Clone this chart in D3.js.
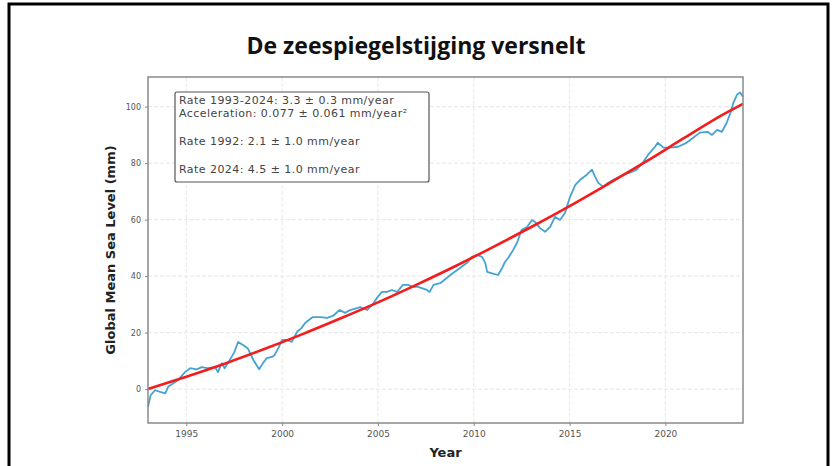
<!DOCTYPE html>
<html>
<head>
<meta charset="utf-8">
<script src="https://cdn.jsdelivr.net/npm/d3@7"></script>
<style>
  body { margin: 0; background: #fff; }
  svg { display: block; }
</style>
</head>
<body>
<div id="page-container"></div>
<script>
  var years = [1993.0, 1993.14, 1993.37, 1993.63, 1993.9, 1994.05, 1994.3, 1994.57, 1994.93, 1995.2,
               1995.55, 1995.8, 1996.1, 1996.5, 1996.65, 1996.85, 1997.0, 1997.17, 1997.5, 1997.7,
               1997.96, 1998.2, 1998.5, 1998.8, 1999.0, 1999.2, 1999.47, 1999.6, 1999.8, 2000.0,
               2000.25, 2000.5, 2000.8, 2001.0, 2001.2, 2001.6, 2001.98, 2002.35, 2002.65, 2003.0,
               2003.28, 2003.55, 2003.9, 2004.07, 2004.43, 2004.7, 2004.95, 2005.2, 2005.47, 2005.73,
               2006.0, 2006.3, 2006.57, 2006.83, 2007.1, 2007.55, 2007.7, 2007.9, 2008.25, 2008.6,
               2008.9, 2009.28, 2009.65, 2009.9, 2010.17, 2010.43, 2010.6, 2010.7, 2010.95, 2011.27,
               2011.48, 2011.63, 2011.8, 2012.0, 2012.26, 2012.5, 2012.78, 2013.04, 2013.2, 2013.46,
               2013.72, 2013.98, 2014.24, 2014.5, 2014.76, 2015.02, 2015.3, 2015.55, 2015.9, 2016.17,
               2016.33, 2016.5, 2016.75, 2017.0, 2017.27, 2017.8, 2018.15, 2018.5, 2018.8, 2019.1,
               2019.46, 2019.6, 2019.9, 2020.25, 2020.66, 2021.1, 2021.45, 2021.8, 2022.2, 2022.43,
               2022.7, 2022.95, 2023.2, 2023.4, 2023.55, 2023.74, 2023.9, 2024.05];
  var gmsl = [-6.3, -2.1, -0.4, -1.0, -1.5, 0.8, 2.0, 3.2, 6.0, 7.4,
              7.0, 7.8, 7.4, 7.8, 6.0, 9.2, 7.4, 9.2, 13.0, 16.7,
              15.6, 14.5, 10.3, 7.0, 9.2, 11.0, 11.4, 12.0, 14.5, 17.4,
              17.4, 16.7, 20.5, 21.5, 23.4, 25.5, 25.5, 25.2, 25.9, 28.0,
              27.0, 28.0, 28.7, 29.0, 28.0, 29.8, 32.3, 34.4, 34.4, 35.1,
              34.4, 36.9, 36.9, 36.2, 36.2, 35.1, 34.4, 36.9, 37.5, 39.4,
              41.0, 42.9, 44.7, 46.8, 47.5, 46.8, 44.7, 41.5, 41.0, 40.4,
              42.9, 45.0, 46.5, 48.6, 51.8, 56.4, 57.4, 59.9, 59.2, 57.0,
              55.7, 57.4, 61.0, 59.9, 62.4, 68.0, 72.3, 74.1, 75.9, 77.7,
              75.2, 73.0, 71.6, 73.0, 74.0, 75.9, 76.6, 77.7, 80.0, 83.0,
              85.8, 87.2, 85.5, 85.5, 85.8, 87.2, 89.0, 90.8, 91.1, 90.0,
              91.8, 91.1, 94.3, 97.9, 101.4, 104.3, 105.0, 103.5];

  // quadratic fit (red)
  var fitYears = [1993, 1995, 1997, 1999, 2001, 2003, 2005, 2007, 2009, 2011, 2013, 2015, 2017, 2019, 2021, 2023, 2024.05];
  var fitValues = [0.0, 4.4, 9.0, 14.0, 19.3, 24.9, 30.7, 36.9, 43.4, 50.3, 57.4, 64.8, 72.6, 80.6, 89.0, 97.2, 101.0];

  var xTicks = [1995, 2000, 2005, 2010, 2015, 2020];
  var yTicks = [0, 20, 40, 60, 80, 100];

  var title = "De zeespiegelstijging versnelt";
  var infoLines = ["Rate 1993-2024: 3.3 ± 0.3 mm/year",
                   "Acceleration: 0.077 ± 0.061 mm/year²",
                   "Rate 1992: 2.1 ± 1.0 mm/year",
                   "Rate 2024: 4.5 ± 1.0 mm/year"];

  var W = 832, H = 466;
  var plot = {left: 148, right: 743, top: 77, bottom: 423};

  var svg = d3.select("#page-container").append("svg")
              .attr("width", W)
              .attr("height", H);

  // black frame around the card
  svg.append("rect")
     .attr("x", 9).attr("y", 4)
     .attr("width", 819).attr("height", H + 20)
     .attr("fill", "#fff")
     .attr("stroke", "#000")
     .attr("stroke-width", 3);

  svg.append("text")
     .attr("x", 416).attr("y", 54)
     .attr("text-anchor", "middle")
     .style("font-family", "'Open Sans', sans-serif")
     .style("font-weight", 700)
     .style("font-size", "23px")
     .attr("fill", "#111")
     .text(title);

  var x = d3.scaleLinear().domain([1993, 2024.05]).range([plot.left, plot.right]);
  var y = d3.scaleLinear().domain([-12, 110.5]).range([plot.bottom, plot.top]);

  // grid
  var grid = svg.append("g").attr("stroke", "#ebebeb").attr("stroke-width", 1.2).attr("stroke-dasharray", "4,2");
  grid.selectAll(".gx").data(xTicks).enter().append("line")
      .attr("x1", d => x(d)).attr("x2", d => x(d))
      .attr("y1", plot.top).attr("y2", plot.bottom);
  grid.selectAll(".gy").data(yTicks).enter().append("line")
      .attr("x1", plot.left).attr("x2", plot.right)
      .attr("y1", d => y(d)).attr("y2", d => y(d));

  var xAxis = svg.append("g")
      .attr("transform", "translate(0," + plot.bottom + ")")
      .call(d3.axisBottom(x).tickValues(xTicks).tickFormat(d3.format("d")).tickSize(3).tickPadding(5));
  var yAxis = svg.append("g")
      .attr("transform", "translate(" + plot.left + ",0)")
      .call(d3.axisLeft(y).tickValues(yTicks).tickFormat(d3.format("d")).tickSize(3).tickPadding(4));
  [xAxis, yAxis].forEach(a => {
    a.select(".domain").remove();
    a.selectAll(".tick line").attr("stroke", "#888");
    a.selectAll(".tick text")
     .attr("fill", "#555")
     .style("font-family", "'DejaVu Sans', sans-serif");
  });
  xAxis.selectAll(".tick text").style("font-size", "9px");
  yAxis.selectAll(".tick text").style("font-size", "8px");

  var line = d3.line().x(d => x(d[0])).y(d => y(d[1]));

  svg.append("path")
     .datum(d3.zip(years, gmsl))
     .attr("fill", "none")
     .attr("stroke", "#45a3d4")
     .attr("stroke-width", 1.8)
     .attr("stroke-linejoin", "round")
     .attr("d", line);

  svg.append("path")
     .datum(d3.zip(fitYears, fitValues))
     .attr("fill", "none")
     .attr("stroke", "#f41c1c")
     .attr("stroke-width", 2.6)
     .attr("d", line.curve(d3.curveMonotoneX));

  // plot frame
  svg.append("rect")
     .attr("x", plot.left).attr("y", plot.top)
     .attr("width", plot.right - plot.left).attr("height", plot.bottom - plot.top)
     .attr("fill", "none")
     .attr("stroke", "#8a8a8a")
     .attr("stroke-width", 1.5);

  // info box
  svg.append("rect")
     .attr("x", 175).attr("y", 92)
     .attr("width", 254).attr("height", 90)
     .attr("fill", "#fff")
     .attr("stroke", "#555")
     .attr("stroke-width", 1.2)
     .attr("rx", 2);
  var lineY = [103.5, 116.5, 145, 173];
  svg.selectAll(".info").data(infoLines).enter().append("text")
     .attr("x", 179)
     .attr("y", (d, i) => lineY[i])
     .attr("fill", "#444")
     .style("font-family", "'DejaVu Sans', sans-serif")
     .style("font-size", "11px")
     .style("letter-spacing", "0.45px")
     .text(d => d);

  svg.append("text")
     .attr("x", (plot.left + plot.right) / 2).attr("y", 457)
     .attr("text-anchor", "middle")
     .style("font-family", "'DejaVu Sans', sans-serif")
     .style("font-weight", 700)
     .style("font-size", "13px")
     .attr("fill", "#222")
     .text("Year");

  svg.append("text")
     .attr("transform", "translate(115," + (plot.top + plot.bottom) / 2 + ") rotate(-90)")
     .attr("text-anchor", "middle")
     .style("font-family", "'DejaVu Sans', sans-serif")
     .style("font-weight", 700)
     .style("font-size", "13px")
     .attr("fill", "#222")
     .text("Global Mean Sea Level (mm)");
</script>
</body>
</html>
